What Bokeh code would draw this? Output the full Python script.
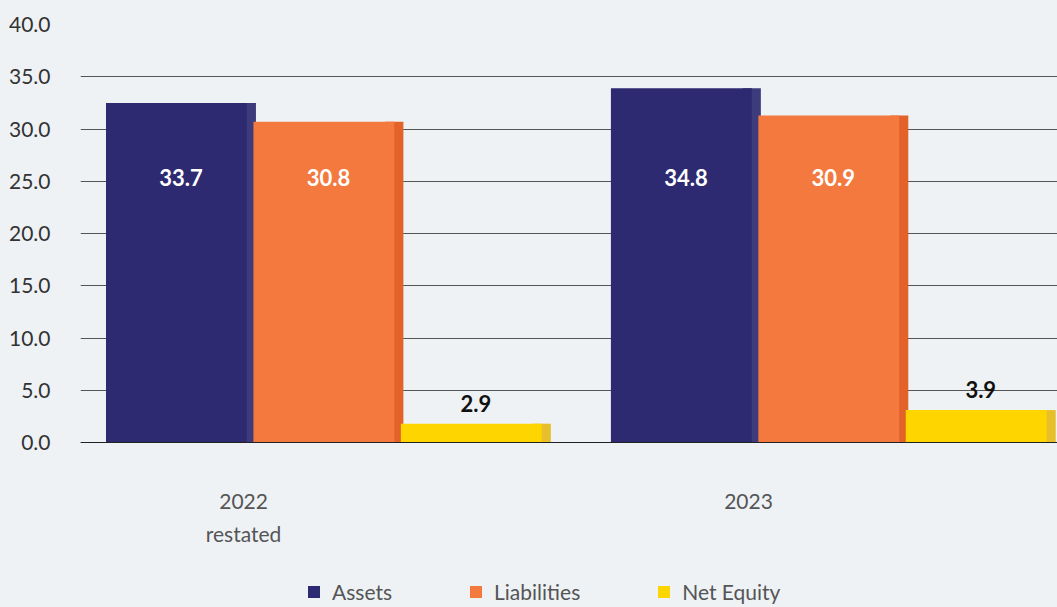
import numpy as np
from bokeh.plotting import figure
from bokeh.models import (Range1d, FixedTicker, NumeralTickFormatter, Legend,
                          LegendItem, ColumnDataSource, Span)
from bokeh.embed import file_html
from bokeh.resources import INLINE
from bokeh.core.properties import value

# ---------------- data ----------------
years = ["2022", "2023"]
year_notes = ["restated", ""]
series = ["Assets", "Liabilities", "Net Equity"]
assets = [32.5, 33.9]
liabilities = [30.7, 31.3]
net_equity = [1.8, 3.1]
assets_labels = ["33.7", "34.8"]
liabilities_labels = ["30.8", "30.9"]
net_equity_labels = ["2.9", "3.9"]
y_ticks = [0, 5, 10, 15, 20, 25, 30, 35, 40]

# ---------------- style / layout ----------------
BG = "#eef2f5"
FONT = "Lato"
face_colors = ["#2e2a72", "#f3793f", "#ffd500"]
shadow_colors = ["#3e3b7c", "#e2622a", "#e6bf2a"]
SPACING = 0.292
SLOT = 0.297
SHADOW = 0.018
W, H = 1057, 604
TOP, ZERO_PX = 24, 442          # pixel rows of the 40 and 0 grid lines
Y_MAX = 40
px_per_unit = (ZERO_PX - TOP) / Y_MAX
y_bottom = -(H - ZERO_PX) / px_per_unit

p = figure(width=W, height=H, output_backend="svg", toolbar_location=None,
           x_range=Range1d(-0.491, 1.444), y_range=Range1d(y_bottom, Y_MAX),
           min_border_left=80, min_border_right=0, min_border_top=TOP,
           min_border_bottom=0,
           background_fill_color=BG, border_fill_color=BG)
p.outline_line_color = None
p.xgrid.grid_line_color = None
p.ygrid.grid_line_color = "#555555"
p.ygrid.grid_line_width = 1
p.ygrid.ticker = FixedTicker(ticks=y_ticks)
p.xaxis.visible = False
p.add_layout(Span(location=0, dimension="width", line_color="#222222", line_width=1))

groups = np.arange(len(years), dtype=float)
values = [assets, liabilities, net_equity]
labels = [assets_labels, liabilities_labels, net_equity_labels]

face_renderers = []
for k, (vals, name) in enumerate(zip(values, series)):
    xs = groups + (k - 1) * SPACING
    src = ColumnDataSource(dict(
        x_face=xs - SHADOW / 2,
        x_shadow=xs + SLOT / 2 - SHADOW,
        top=vals,
    ))
    p.vbar(x="x_shadow", width=2 * SHADOW, top="top", bottom=0, source=src,
           fill_color=shadow_colors[k], line_color=None)
    r = p.vbar(x="x_face", width=SLOT - SHADOW, top="top", bottom=0, source=src,
               fill_color=face_colors[k], line_color=None)
    face_renderers.append(r)

# value labels
for k in range(2):
    xs = groups + (k - 1) * SPACING
    p.text(x=xs, y=[Y_MAX * 0.633] * len(xs), text=labels[k],
           text_font=value(FONT), text_font_style="bold", text_font_size="22px",
           text_color="white", text_align="center", text_baseline="middle")
xs = groups + SPACING
p.text(x=xs, y=net_equity, text=net_equity_labels, y_offset=-12,
       text_font=value(FONT), text_font_style="bold", text_font_size="22px",
       text_color="#111111", text_align="center", text_baseline="bottom")

# category labels under the baseline
cat_x = groups - 0.168
p.text(x=cat_x, y=[0] * len(years), text=years, y_offset=59,
       text_font=value(FONT), text_font_size="21px", text_color="#555555",
       text_align="center", text_baseline="middle")
p.text(x=cat_x, y=[0] * len(years), text=year_notes, y_offset=91,
       text_font=value(FONT), text_font_size="21px", text_color="#555555",
       text_align="center", text_baseline="middle")

# y axis
p.yaxis.ticker = FixedTicker(ticks=y_ticks)
p.yaxis.formatter = NumeralTickFormatter(format="0.0")
p.yaxis.axis_line_color = None
p.yaxis.major_tick_line_color = None
p.yaxis.minor_tick_line_color = None
p.yaxis.major_label_standoff = 24
p.yaxis.major_label_text_font = FONT
p.yaxis.major_label_text_font_size = "21px"
p.yaxis.major_label_text_color = "#333333"

legend = Legend(items=[LegendItem(label=series[i], renderers=[face_renderers[i]])
                       for i in range(3)],
                orientation="horizontal", location=(226, 0),
                glyph_width=15, glyph_height=15, label_standoff=11, spacing=76,
                label_text_font=FONT, label_text_font_size="21px",
                label_text_color="#555555", background_fill_alpha=0,
                border_line_color=None, margin=0, padding=0)
p.add_layout(legend, "center")

open("out.html", "w").write(file_html(p, INLINE).replace(
    "<body>", '<body style="background-color:%s;">' % BG))
